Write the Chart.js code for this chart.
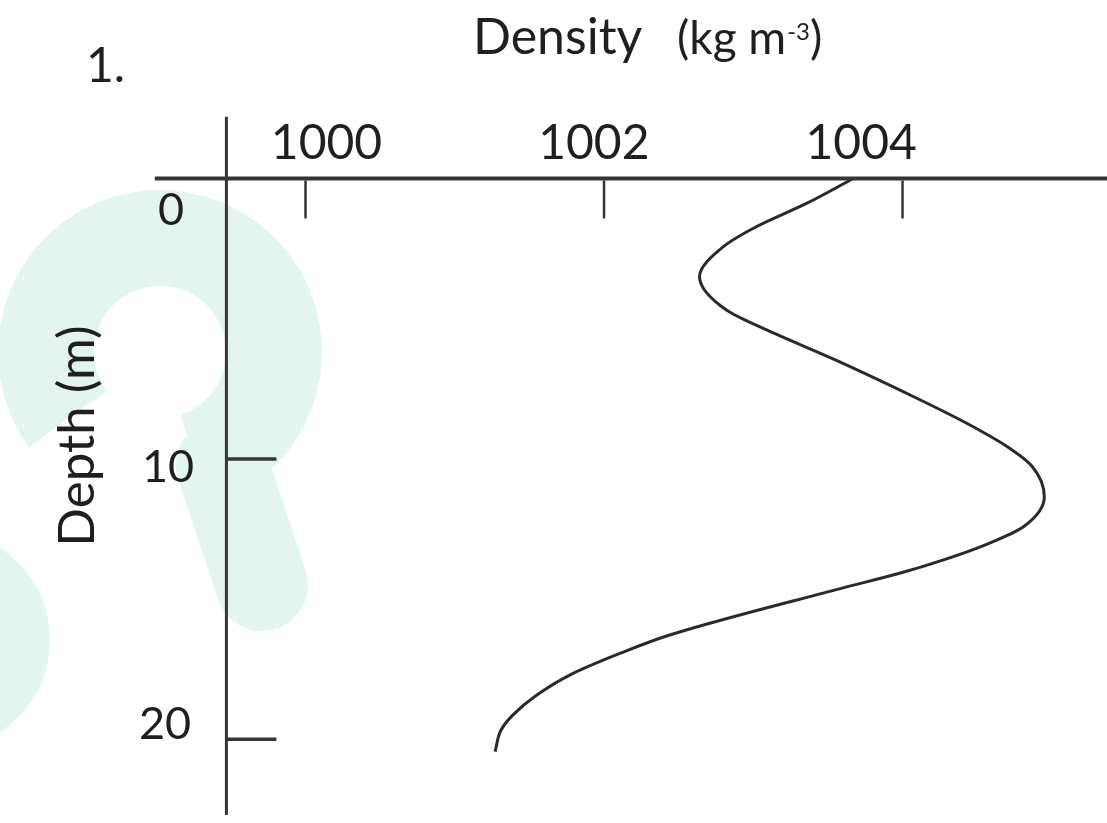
<!DOCTYPE html>
<html>
<head>
<meta charset="utf-8">
<title>Density profile</title>
<script src="https://cdn.jsdelivr.net/npm/chart.js@4.4.1/dist/chart.umd.min.js"></script>
<style>
  html, body { margin: 0; padding: 0; background: #fff; }
  #wrap { width: 1107px; height: 823px; }
</style>
</head>
<body>
<div id="wrap"><canvas id="densityChart" width="1107" height="823"></canvas></div>
<script>
// profile: depth (m) and density (kg m-3)
const depths = [0, 0.88, 1.72, 2.43, 3.50, 4.69, 5.40, 6.47, 7.90, 8.73, 9.56, 10.28, 11.35, 12.42, 13.01, 13.61, 14.08, 14.67, 16.28, 16.93, 17.71, 18.42, 19.13, 19.67, 20.44];
const densities = [1003.67, 1003.36, 1003.02, 1002.80, 1002.64, 1002.82, 1003.09, 1003.55, 1004.12, 1004.43, 1004.70, 1004.87, 1004.95, 1004.81, 1004.58, 1004.27, 1003.98, 1003.55, 1002.44, 1002.11, 1001.77, 1001.55, 1001.39, 1001.31, 1001.27];

const densityTicks = [1000, 1002, 1004];
const depthTicks = [0, 10, 20];

const INK = '#1f1f1f';
const FONT = 'Lato, "Open Sans", sans-serif';

// faint logo behind the chart
const watermark = {
    id: 'watermark',
    beforeDraw(chart) {
        const ctx = chart.ctx;
        ctx.save();
        ctx.fillStyle = '#e4f5ef';
        ctx.strokeStyle = '#e4f5ef';
        ctx.lineWidth = 96;
        ctx.beginPath();
        ctx.arc(160, 352, 114, Math.PI * 0.8, Math.PI * 2.4);
        ctx.stroke();
        ctx.lineCap = 'round';
        ctx.lineWidth = 92;
        ctx.beginPath();
        ctx.moveTo(222, 465);
        ctx.lineTo(262, 585);
        ctx.stroke();
        ctx.beginPath();
        ctx.arc(-60, 640, 110, 0, Math.PI * 2);
        ctx.fill();
        ctx.restore();
    }
};

// axes drawn the way the sketch has them: x axis on top crossing at depth 0
const sketchAxes = {
    id: 'sketchAxes',
    afterDatasetsDraw(chart) {
        const { ctx, scales: { x, y } } = chart;
        const x0 = x.getPixelForValue(999.47);
        const y0 = y.getPixelForValue(0);
        ctx.save();
        ctx.strokeStyle = '#363636';

        ctx.lineWidth = 4;
        ctx.beginPath();
        ctx.moveTo(x.getPixelForValue(998.99), y0);
        ctx.lineTo(chart.width, y0);
        ctx.stroke();

        ctx.lineWidth = 3;
        ctx.beginPath();
        ctx.moveTo(x0, y.getPixelForValue(-2.2));
        ctx.lineTo(x0, y.getPixelForValue(22.7));
        ctx.stroke();

        ctx.lineWidth = 2.5;
        densityTicks.forEach(v => {
            const px = x.getPixelForValue(v);
            ctx.beginPath();
            ctx.moveTo(px, y0 + 2);
            ctx.lineTo(px, y0 + 40);
            ctx.stroke();
        });

        ctx.lineWidth = 3.5;
        depthTicks.filter(v => v > 0).forEach(v => {
            const py = y.getPixelForValue(v);
            ctx.beginPath();
            ctx.moveTo(x0, py);
            ctx.lineTo(x0 + 50, py);
            ctx.stroke();
        });

        ctx.fillStyle = INK;
        ctx.textBaseline = 'alphabetic';

        // tick labels sit a little off their ticks in the original
        ctx.font = '48px ' + FONT;
        ctx.textAlign = 'center';
        densityTicks.forEach(v => {
            const px = x.getPixelForValue(v) + 21 - (v - 1000) * 15.6;
            ctx.fillText(String(v), px, y0 - 20);
        });

        ctx.font = '45px ' + FONT;
        depthTicks.forEach(v => {
            const py = y.getPixelForValue(v) + 46 - v * 2.33;
            ctx.fillText(String(v), 171 - v * 0.3, py);
        });

        // axis titles
        ctx.textAlign = 'left';
        ctx.font = '48px ' + FONT;
        ctx.fillText('1.', 86, 82);

        ctx.font = '50px ' + FONT;
        ctx.fillText('Density', 473, 54);
        let tx = 677;
        ctx.font = '46px ' + FONT;
        ctx.fillText('(kg m', tx, 54);
        tx += ctx.measureText('(kg m').width + 1;
        ctx.font = '24px ' + FONT;
        ctx.fillText('-3', tx, 40);
        tx += ctx.measureText('-3').width;
        ctx.font = '46px ' + FONT;
        ctx.fillText(')', tx, 54);

        ctx.translate(78, 436);
        ctx.rotate(-Math.PI / 2);
        ctx.textAlign = 'center';
        ctx.textBaseline = 'middle';
        ctx.font = '51px ' + FONT;
        ctx.fillText('Depth (m)', 0, 0);
        ctx.restore();
    }
};

const ctx = document.getElementById('densityChart').getContext('2d');

// depth runs down the page, so the curve is smoothed along the y axis
const densityChart = new Chart(ctx, {
    type: 'scatter',
    data: {
        datasets: [{
            label: 'Density',
            data: depths.map((d, i) => ({ x: densities[i], y: d })),
            showLine: true,
            borderColor: '#2a2a2a',
            borderWidth: 3,
            pointRadius: 0,
            cubicInterpolationMode: 'monotone',
            fill: false
        }]
    },
    options: {
        indexAxis: 'y',
        responsive: false,
        animation: false,
        layout: { padding: 0 },
        plugins: {
            legend: { display: false },
            tooltip: { enabled: false }
        },
        scales: {
            x: { type: 'linear', display: false, min: 997.953, max: 1005.370 },
            y: { type: 'linear', display: false, reverse: true, min: -6.366, max: 22.985 }
        }
    },
    plugins: [watermark, sketchAxes]
});
</script>
</body>
</html>
